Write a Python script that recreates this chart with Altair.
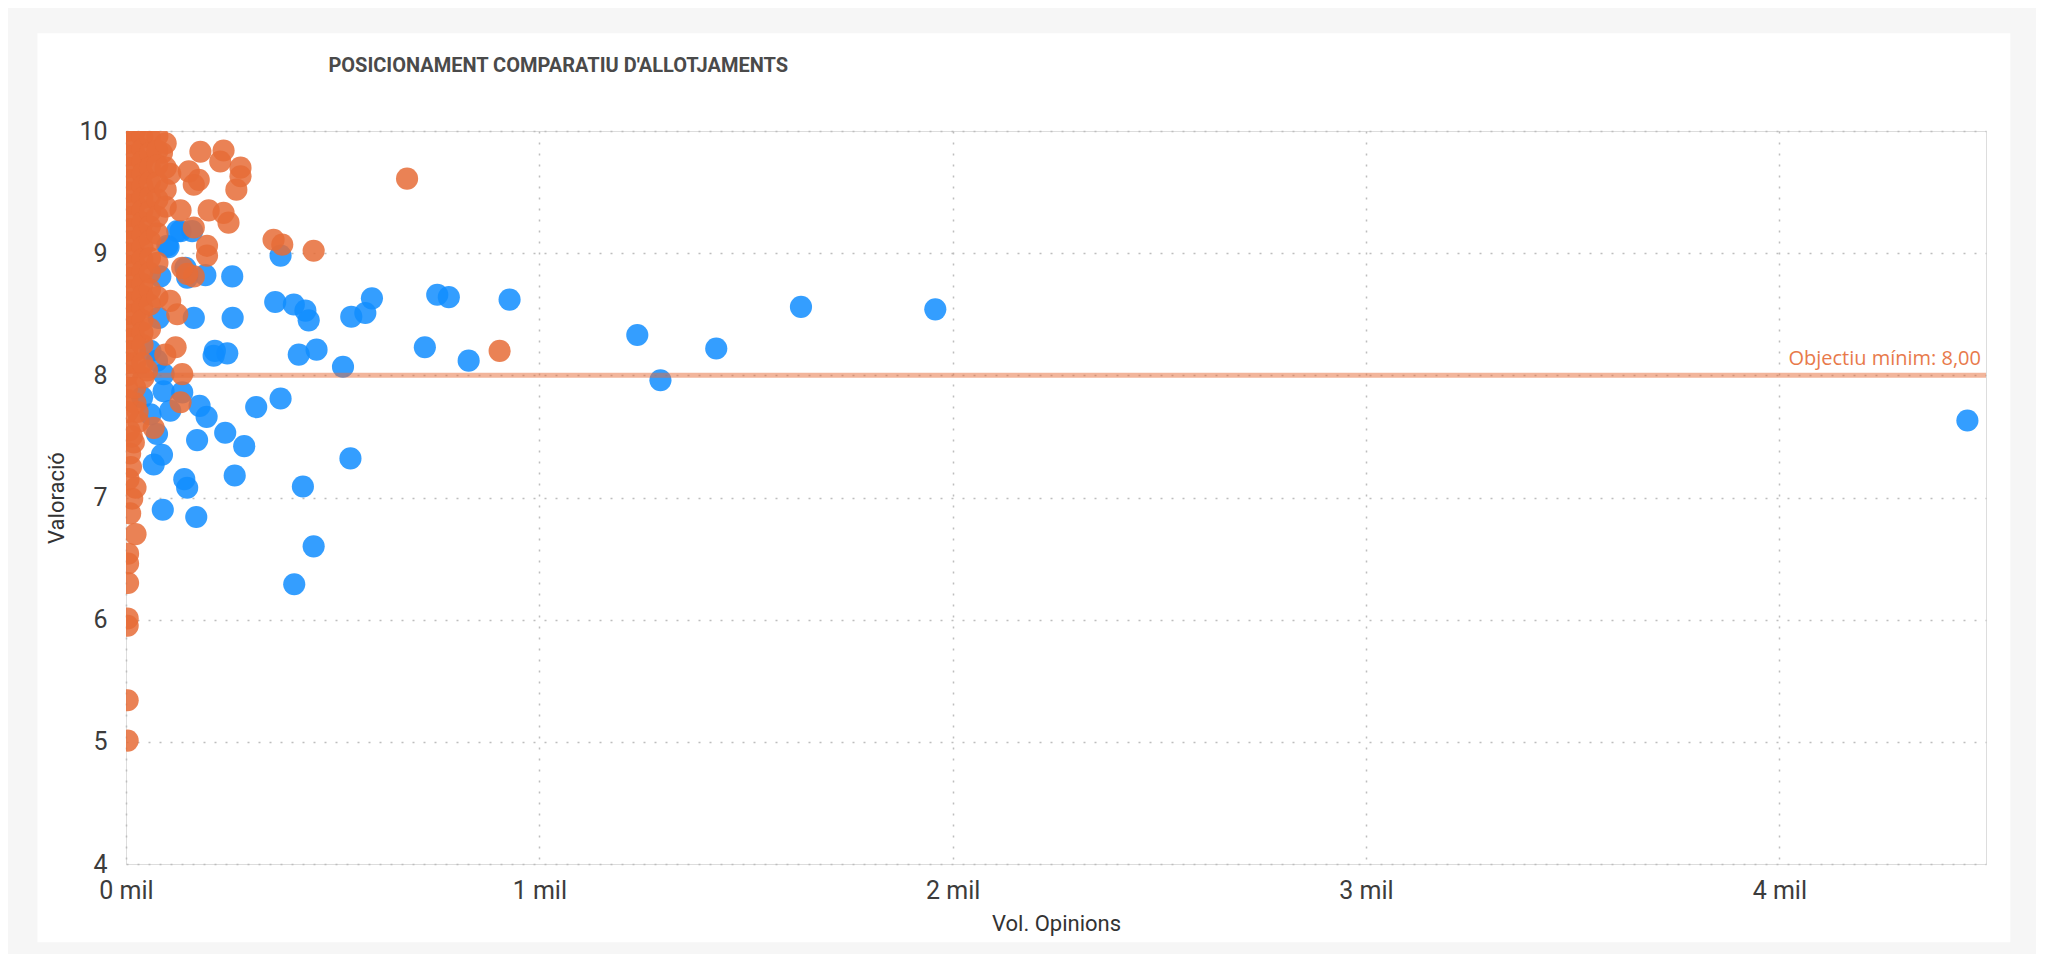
import altair as alt
import pandas as pd

# ---------------- data ----------------
# x = number of opinions, y = rating
blue_x = [4455, 1958, 1633, 1428, 1293, 1237, 928, 829, 781, 753, 723, 595, 579, 545, 543,
          525, 461, 454, 442, 434, 428, 418, 407, 406, 374, 374, 361, 315, 286, 263,
          258, 257, 245, 240, 215, 212, 195, 192, 178, 172, 170, 164, 160, 148, 148,
          144, 141, 132, 107, 100, 89, 87, 75, 67,
          91, 136, 39, 59, 75, 91, 59, 79, 83, 103, 124]
blue_y = [7.63, 8.54, 8.56, 8.22, 7.96, 8.33, 8.62, 8.12, 8.64, 8.66, 8.23, 8.63, 8.51, 8.48, 7.32,
          8.07, 8.21, 6.60, 8.45, 8.53, 7.09, 8.17, 6.29, 8.58, 8.98, 7.81, 8.60, 7.74, 7.42, 7.18,
          8.47, 8.81, 8.18, 7.53, 8.20, 8.16, 7.66, 8.82, 7.75, 7.47, 6.84, 8.47, 9.18, 8.80, 7.08,
          8.88, 7.15, 9.18, 7.71, 9.06, 6.90, 7.35, 7.52, 7.27,
          7.87, 7.86, 7.82, 7.68, 8.12, 8.01, 8.20, 8.47, 8.81, 9.05, 9.18]

orange_x = [904, 680, 454, 378, 357, 277, 277, 267, 248, 236, 236, 228, 200, 196, 196,
            180, 176, 164, 164, 164, 152, 148, 136, 136, 132, 132, 124, 120, 107, 107,
            95, 87, 67, 51, 42, 23, 19, 10, 23, 15, 10, 23, 5, 5, 5, 4, 4, 4, 4, 30, 8,
            12, 6, 14, 28,
            # dense wall close to zero opinions
            3, 3, 3, 3, 3, 3, 3, 3, 3, 3, 3, 3, 3, 3, 3, 3, 3, 3, 3, 3, 3, 3, 3, 3,
            22, 22, 22, 22, 22, 22, 22, 22, 22, 22, 22, 22, 22, 22, 22, 22, 22, 22, 22, 22, 22,
            40, 40, 40, 40, 40, 40, 40, 40, 40, 40, 40, 40, 40, 40, 40, 40, 40, 40, 40,
            58, 58, 58, 58, 58, 58, 58, 58, 58, 58, 58, 58, 58,
            76, 76, 76, 76, 76, 76, 76, 76, 76,
            96, 96, 96, 96]
orange_y = [8.20, 9.61, 9.02, 9.07, 9.11, 9.70, 9.63, 9.52, 9.25, 9.84, 9.33, 9.75, 9.35, 9.06, 8.98,
            9.83, 9.60, 9.56, 9.21, 8.81, 9.67, 8.83, 8.88, 8.01, 9.35, 7.78, 8.50, 8.23, 9.65, 8.61,
            8.17, 9.82, 7.57, 8.04, 7.98, 7.77, 7.45, 7.36, 7.08, 6.99, 6.87, 6.70, 6.54, 6.46, 6.30,
            6.01, 5.95, 5.34, 5.01, 7.62, 7.55,
            7.25, 7.15, 7.50, 7.70,
            10.0, 9.9, 9.8, 9.7, 9.6, 9.5, 9.4, 9.3, 9.2, 9.1, 9.0, 8.9, 8.8, 8.7, 8.6, 8.5, 8.4, 8.3,
            8.2, 8.1, 8.0, 7.9, 7.8, 7.7,
            10.0, 9.9, 9.8, 9.7, 9.6, 9.5, 9.4, 9.3, 9.2, 9.1, 9.0, 8.9, 8.8, 8.7, 8.6, 8.5, 8.4, 8.3,
            8.2, 8.1, 7.9,
            9.95, 9.85, 9.75, 9.65, 9.55, 9.45, 9.35, 9.25, 9.15, 9.05, 8.95, 8.85, 8.75, 8.65, 8.55,
            8.45, 8.35, 8.25, 8.1,
            9.95, 9.82, 9.7, 9.58, 9.46, 9.34, 9.22, 9.1, 8.96, 8.84, 8.7, 8.58, 8.38,
            9.96, 9.84, 9.72, 9.58, 9.44, 9.3, 9.16, 8.92, 8.64,
            9.9, 9.7, 9.52, 9.38]

target = 8.0
x_ticks = [0, 1000, 2000, 3000, 4000]
y_ticks = [4, 5, 6, 7, 8, 9, 10]
title_text = "POSICIONAMENT COMPARATIU D'ALLOTJAMENTS"

blue_df = pd.DataFrame({"opinions": blue_x, "valoracio": blue_y})
orange_df = pd.DataFrame({"opinions": orange_x, "valoracio": orange_y})
target_df = pd.DataFrame({"valoracio": [target], "opinions": [4500],
                          "label": ["Objectiu mínim: " + f"{target:.2f}".replace(".", ",")]})
title_df = pd.DataFrame({"t": [title_text]})

# ---------------- styling ----------------
FONT = "Roboto"
GRID = dict(grid=True, gridDash=[2, 9], gridColor="#BDBDBD", gridWidth=1.5,
            domain=False, ticks=False, tickSize=0, labelFlush=False,
            labelFont=FONT, labelFontSize=25, labelColor="#3C3C3C",
            titleFont=FONT, titleFontSize=22, titleFontWeight="normal", titleColor="#333333")

x_enc = alt.X("opinions:Q",
              scale=alt.Scale(domain=[0, 4500], nice=False, zero=True),
              axis=alt.Axis(values=x_ticks, labelExpr="(datum.value/1000) + ' mil'",
                            labelPadding=14, title="Vol. Opinions", titlePadding=10, **GRID))
y_enc = alt.Y("valoracio:Q",
              scale=alt.Scale(domain=[4, 10], nice=False, zero=False),
              axis=alt.Axis(values=y_ticks, format="d", labelPadding=19, title="Valoració",
                            titlePadding=10, **GRID))

blue = alt.Chart(blue_df).mark_circle(size=490, color="#118DFF", opacity=0.85, clip=True).encode(
    x=x_enc, y=y_enc)
orange = alt.Chart(orange_df).mark_circle(size=490, color="#E66C37", opacity=0.85, clip=True).encode(
    x="opinions:Q", y="valoracio:Q")
rule = alt.Chart(target_df).mark_rule(color="#E66C37", opacity=0.5, strokeWidth=5).encode(
    y="valoracio:Q")
label = alt.Chart(target_df).mark_text(align="right", baseline="alphabetic", dx=-5, dy=-10,
                                       font="Open Sans", fontSize=20, color="#E66C37",
                                       opacity=0.9).encode(
    x="opinions:Q", y="valoracio:Q", text="label:N")
title = alt.Chart(title_df).mark_text(align="left", baseline="alphabetic", font=FONT,
                                      fontSize=20, fontWeight="bold", color="#4A4A4A").encode(
    x=alt.value(202.4), y=alt.value(-58.8), text="t:N")
frame_df = pd.DataFrame({"a": [0]})
frame = alt.Chart(frame_df).mark_rect(fillOpacity=0, stroke="#F6F6F6", strokeWidth=60,
                                      clip=False).encode(
    x=alt.value(-118.6), x2=alt.value(1914.4), y=alt.value(-127.8), y2=alt.value(841.2))

chart = alt.layer(blue, orange, rule, label, title, frame).properties(
    width=1860, height=733,
    autosize=alt.AutoSizeParams(type="none"),
    padding={"left": 118, "top": 123, "right": 50, "bottom": 90},
).configure_view(stroke=None).configure(background="#FFFFFF")

chart.save("out.html", embed_options={"renderer": "svg", "actions": False})
